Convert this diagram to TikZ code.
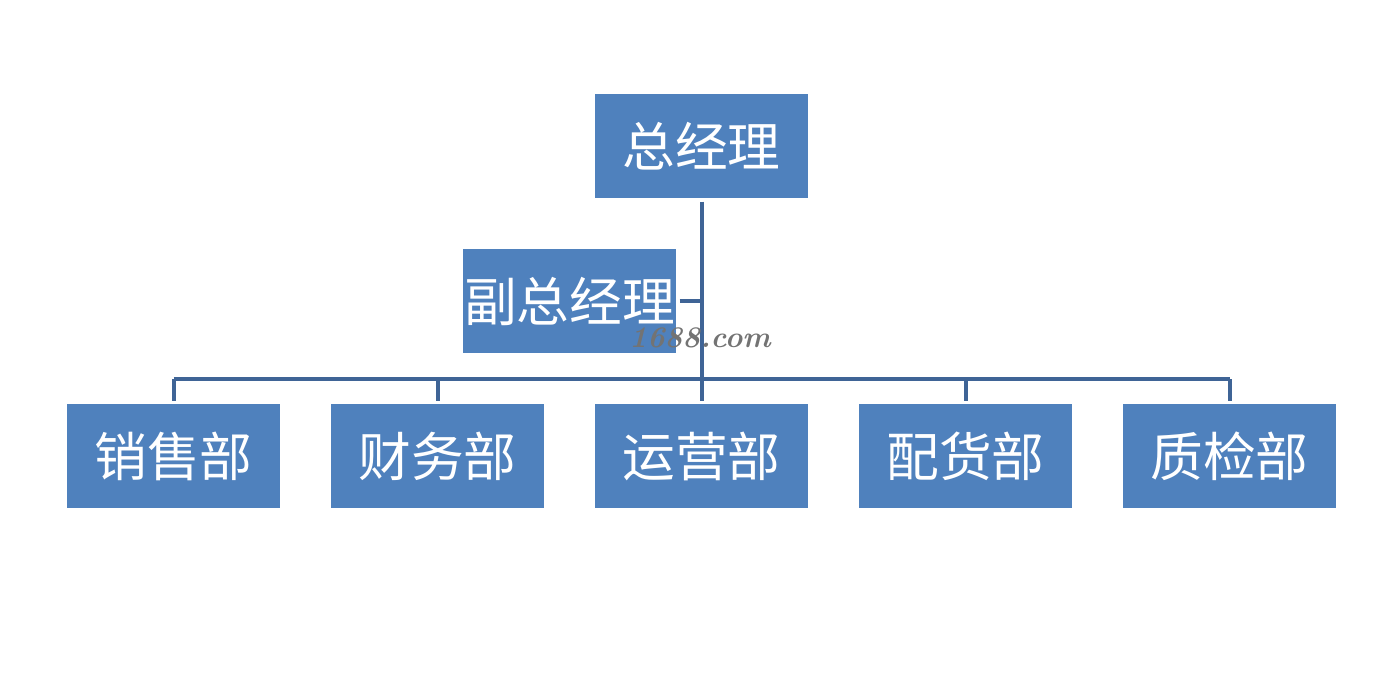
\documentclass[tikz,border=0pt]{standalone}
\usepackage{fontspec}
\usepackage{xcolor}
\usepackage{tikz}
\usetikzlibrary{positioning}
\newfontfamily\cjk{Noto Sans CJK SC}
\definecolor{boxblue}{HTML}{4F81BD}
\definecolor{linkblue}{HTML}{3F6496}
\tikzset{unit/.style={fill=boxblue, text=white, minimum width=4.26cm, minimum height=2.08cm, inner sep=0pt, outer sep=0.07cm, font=\cjk\fontsize{30}{32}\selectfont},
link/.style={draw=linkblue, line width=0.08cm}}

\begin{document}
\begin{tikzpicture}
\useasboundingbox (0,0) rectangle (27.98,13.44);

\node[unit] (zjl) at (14.03,10.52) {总经理};
\node[unit] (fzjl) at (11.39,7.42) {副总经理};

\node[unit] (xs) at (3.47,4.32) {销售部};
\node[unit] (cw) at (8.75,4.32) {财务部};
\node[unit] (yy) at (14.03,4.32) {运营部};
\node[unit] (ph) at (19.31,4.32) {配货部};
\node[unit] (zj) at (24.59,4.32) {质检部};

\coordinate (bus) at (14.03,5.86);
\coordinate (fzjlbus) at (zjl.south |- fzjl.east);

\draw[link] (zjl.south) -- (bus);
\draw[link] (fzjl.east) -- (fzjlbus);
\draw[link] (xs.north |- bus) -- (zj.north |- bus);
\foreach \d in {xs, cw, yy, ph, zj}
  \draw[link] (\d.north |- bus) -- (\d.north);

% watermark
\node[text=gray!90!black, font=\bfseries\itshape\fontsize{17}{19}\selectfont] (wm) at (14.0,6.68) {1688.com};
\end{tikzpicture}
\end{document}
